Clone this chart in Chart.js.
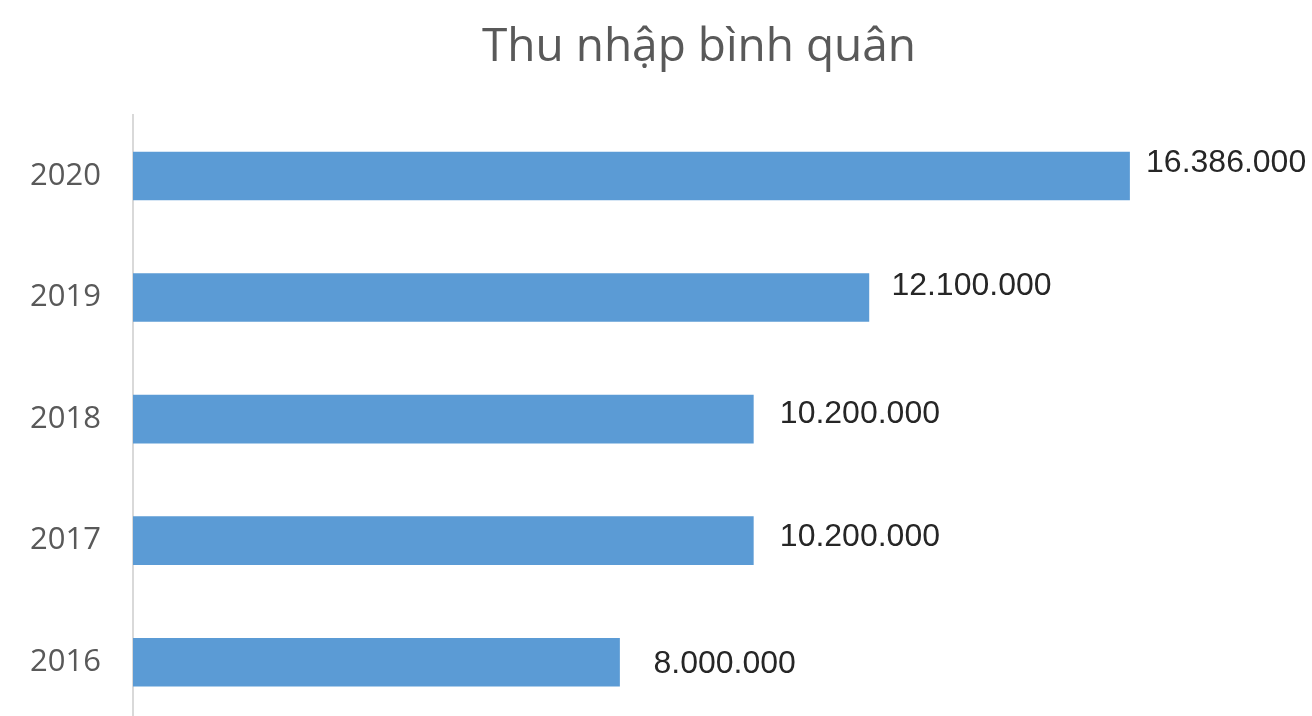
<!DOCTYPE html>
<html lang="vi">
<head>
<meta charset="utf-8">
<title>Thu nhập bình quân</title>
<script src="https://cdn.jsdelivr.net/npm/chart.js@4/dist/chart.umd.min.js"></script>
<style>
  html, body { margin: 0; padding: 0; background: #ffffff; overflow: hidden; }
  #incomeChart { display: block; }
</style>
</head>
<body>
<canvas id="incomeChart" width="1398" height="724"></canvas>
<script>
const years = ["2016", "2017", "2018", "2019", "2020"];
const income = [8000000, 10200000, 10200000, 12100000, 16386000];

// hand placement of each value label, from the bar end / bar centre
const labelDx = [34, 26.5, 26.5, 22.5, 16.5];
const labelDy = [1.5, -3, -5, -11, -12.5];

const fmtVN = v => String(v).replace(/\B(?=(\d{3})+(?!\d))/g, ".");

const valueLabels = {
  id: "valueLabels",
  afterDatasetsDraw(chart) {
    const { ctx } = chart;
    const meta = chart.getDatasetMeta(0);
    ctx.save();
    ctx.font = "32px 'Liberation Sans', Arial, sans-serif";
    ctx.fillStyle = "#262626";
    ctx.textAlign = "left";
    ctx.textBaseline = "middle";
    meta.data.forEach((bar, i) => {
      ctx.fillText(fmtVN(income[i]), bar.x + labelDx[i], bar.y + labelDy[i]);
    });
    ctx.restore();
  }
};

document.addEventListener("DOMContentLoaded", () => {
  const ctx = document.getElementById("incomeChart").getContext("2d");

  new Chart(ctx, {
    type: "bar",
    data: {
      labels: years,
      datasets: [{
        data: income,
        backgroundColor: "#5B9BD5",
        borderWidth: 0,
        barThickness: 48
      }]
    },
    options: {
      indexAxis: "y",
      responsive: false,
      animation: false,
      layout: { padding: { left: 0, right: 0, top: 0, bottom: 1 } },
      plugins: {
        legend: { display: false },
        tooltip: { enabled: false },
        title: {
          display: true,
          text: "Thu nhập bình quân",
          color: "#595959",
          font: { size: 46, family: "'Open Sans', sans-serif", weight: "normal" },
          padding: { top: 20, bottom: 40 }
        }
      },
      scales: {
        x: {
          display: false,
          min: 0,
          max: 20800000
        },
        y: {
          reverse: true,
          grid: { display: false, drawTicks: false },
          border: { display: true, color: "#d9d9d9", width: 2 },
          ticks: {
            color: "#595959",
            padding: 32,
            font: { size: 31, family: "'Open Sans', sans-serif" }
          },
          afterFit(scale) {
            // fixed axis width, and no extra room reserved above/below the labels
            scale.width = 133;
            scale.paddingTop = 0;
            scale.paddingBottom = 0;
          }
        }
      }
    },
    plugins: [valueLabels]
  });
});
</script>
</body>
</html>
